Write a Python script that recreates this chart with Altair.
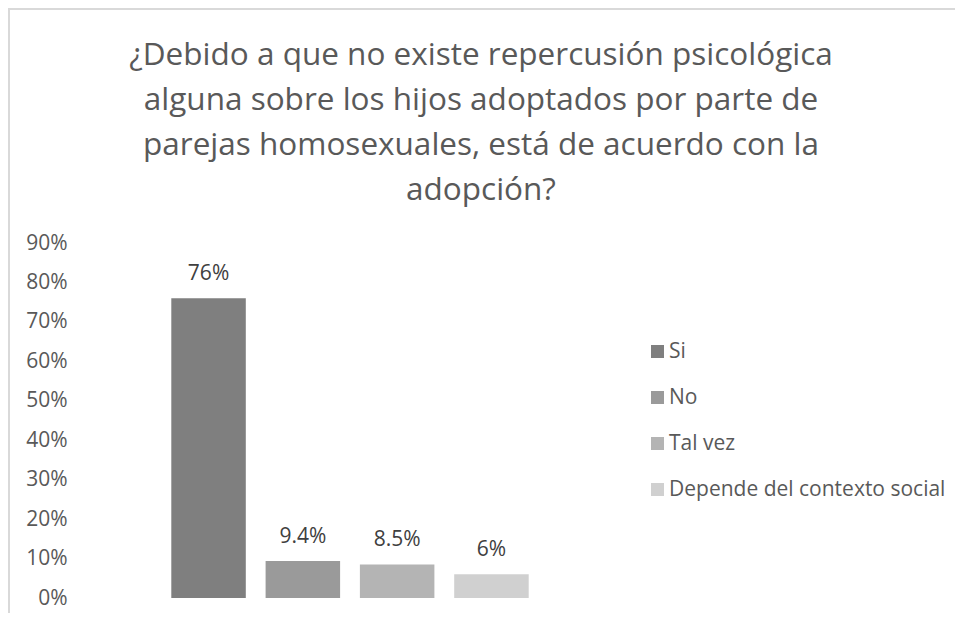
import altair as alt
import pandas as pd

categories = ["Si", "No", "Tal vez", "Depende del contexto social"]
values = [0.76, 0.094, 0.085, 0.06]
labels = ["76%", "9.4%", "8.5%", "6%"]
colors = ["#7f7f7f", "#9a9a9a", "#b4b4b4", "#d0d0d0"]
y_ticks = [0.0, 0.1, 0.2, 0.3, 0.4, 0.5, 0.6, 0.7, 0.8, 0.9]
title_lines = [
    "¿Debido a que no existe repercusión psicológica",
    "alguna sobre los hijos adoptados por parte de",
    "parejas homosexuales, está de acuerdo con la",
    "adopción?",
]

df = pd.DataFrame({"cat": categories, "val": values, "lab": labels})

FONT = "Open Sans"
TXT = "#595959"

y_scale = alt.Scale(domain=[0, 0.9], nice=False, zero=True)
y_axis = alt.Axis(values=y_ticks, format=".0%", grid=False,
                  domain=False, ticks=False, labelPadding=10, title=None,
                  labelOverlap=False, labelFont=FONT, labelFontSize=21,
                  labelColor=TXT)
x_scale = alt.Scale(paddingInner=0.21, paddingOuter=1.0)

bars = alt.Chart(df).mark_bar().encode(
    x=alt.X("cat:N", sort=categories, axis=None, scale=x_scale),
    y=alt.Y("val:Q", scale=y_scale, axis=y_axis),
    color=alt.Color("cat:N", sort=categories,
                    scale=alt.Scale(domain=categories, range=colors),
                    legend=alt.Legend(title=None, orient="none", legendX=570, legendY=98,
                                      symbolType="square", symbolSize=169,
                                      symbolStrokeWidth=0, labelFont=FONT,
                                      labelFontSize=21, labelColor=TXT, labelLimit=400,
                                      rowPadding=24, labelOffset=1)),
)

text = alt.Chart(df).mark_text(font=FONT, fontSize=21, color="#404040",
                               baseline="alphabetic", dy=-18).encode(
    x=alt.X("cat:N", sort=categories, axis=None, scale=x_scale),
    y=alt.Y("val:Q", scale=y_scale, axis=y_axis),
    text="lab:N",
)

border_left = alt.Chart(df).mark_rule(color="#d9d9d9", strokeWidth=2).encode(
    x=alt.value(-68), y=alt.value(-235), y2=alt.value(370))
border_top = alt.Chart(df).mark_rule(color="#d9d9d9", strokeWidth=2).encode(
    x=alt.value(-69), x2=alt.value(880), y=alt.value(-234))

chart = alt.layer(bars, text, border_left, border_top).properties(
    width=546,
    height=355,
    background="white",
    title=alt.TitleParams(text=title_lines, font=FONT, fontSize=31.5, fontWeight="normal",
                          color=TXT, lineHeight=45, anchor="middle", frame="group",
                          dx=131, dy=199, offset=0),
    autosize=alt.AutoSizeParams(type="none"),
    padding={"left": 69, "top": 235, "right": 332, "bottom": 15},
).configure_view(strokeWidth=0)

chart.save("out.html", embed_options={"renderer": "svg", "actions": False})
